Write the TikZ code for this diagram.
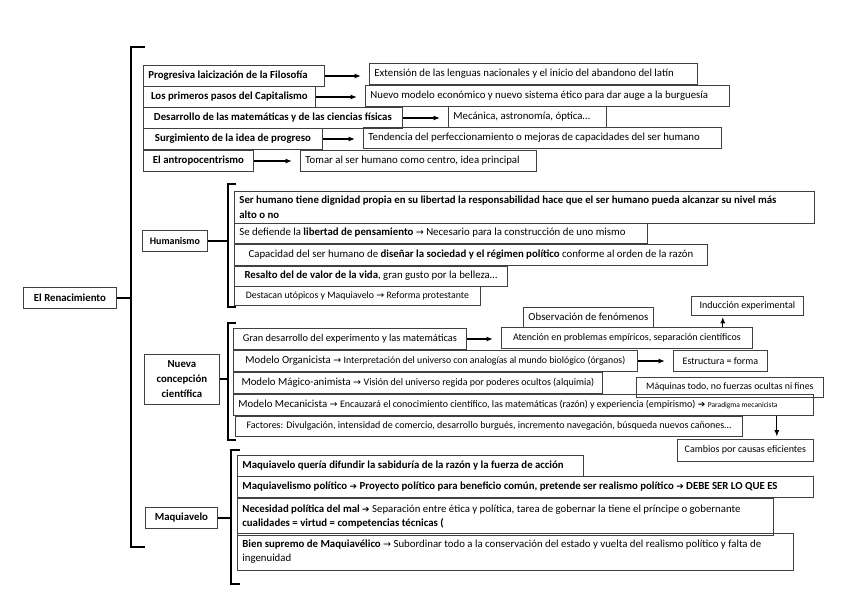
\documentclass[tikz,border=0pt]{standalone}
\usepackage{fontspec}
\setmainfont{Carlito}
\newfontfamily\arrowfont{DejaVu Sans}
\newcommand{\ra}{{\arrowfont\fontsize{9.5}{9.5}\selectfont →}}
\newcommand{\rab}{{\arrowfont\bfseries\fontsize{9}{9}\selectfont ➔}}
\usepackage{tikz}
\usetikzlibrary{positioning, arrows.meta}

\begin{document}
\begin{tikzpicture}[x=1pt, y=-1pt,
  entry/.style={draw=black!75, line width=0.8pt, anchor=west, inner xsep=5pt, inner ysep=2pt, minimum height=21pt, font=\fontsize{10.8}{14.5}\selectfont},
  bentry/.style={entry, font=\fontsize{10.8}{14.5}\selectfont\bfseries},
  sentry/.style={entry, font=\fontsize{10}{14}\selectfont},
  lentry/.style={entry, align=flush left, text width=#1},
  blentry/.style={bentry, align=flush left, text width=#1},
  brk/.style={line width=1.3pt},
  arr/.style={-{Latex[length=6.5pt, width=5pt]}, line width=1.2pt, shorten >=8pt}]
\useasboundingbox (0,0) rectangle (848,599) ;

\node[bentry, minimum width=93pt] at (23,298) (ren) {El Renacimiento} ;
\coordinate (mtop) at (131,47) ;
\coordinate (mbot) at (131,547) ;
\draw[brk] (145,47) -- (mtop) -- (mbot) -- (145,547) ;
\draw[brk] (ren.east) -- (ren.east -| mtop) ;

\node[blentry=171pt] at (143,76) (filo) {Progresiva laicización de la Filosofía} ;
\node[bentry, minimum width=172pt] at (143,97) (capi) {Los primeros pasos del Capitalismo} ;
\node[bentry, minimum width=259pt] at (143,118) (mate) {Desarrollo de las matemáticas y de las ciencias físicas} ;
\node[bentry, minimum width=179pt] at (143,139) (progr) {Surgimiento de la idea de progreso} ;
\node[bentry, minimum width=110pt] at (143,161) (antro) {El antropocentrismo} ;

\node[lentry=318pt] at (369,74) (lengua) {Extensión de las lenguas nacionales y el inicio del abandono del latín} ;
\node[lentry=354pt] at (365,96) (econ) {Nuevo modelo económico y nuevo sistema ético para dar auge a la burguesía} ;
\node[lentry=148pt] at (448,117) (mecanica) {Mecánica, astronomía, óptica…} ;
\node[lentry=348pt] at (363,138) (perfec) {Tendencia del perfeccionamiento o mejoras de capacidades del ser humano} ;
\node[lentry=226pt] at (300,161) (centro) {Tomar al ser humano como centro, idea principal} ;

\draw[arr] (filo.east) -- (filo.east -| lengua.west) ;
\draw[arr] (capi.east) -- (capi.east -| econ.west) ;
\draw[arr] (mate.east) -- (mate.east -| mecanica.west) ;
\draw[arr] (progr.east) -- (progr.east -| perfec.west) ;
\draw[arr] (antro.east) -- (antro.east -| centro.west) ;

\coordinate (htop) at (228,184) ;
\coordinate (hbot) at (228,307) ;
\draw[brk] (236,184) -- (htop) -- (hbot) -- (236,307) ;
\node[bentry, minimum width=65pt, font=\fontsize{10}{14}\selectfont\bfseries] at (142,241) (human) {Humanismo} ;
\draw[brk] (human.east) -- (human.east -| htop) ;

\node[blentry=570pt, minimum height=32pt] at (234,207) (dign) {Ser humano tiene dignidad propia en su libertad la responsabilidad hace que el ser humano pueda alcanzar su nivel más\\alto o no} ;
\node[lentry=403pt, minimum height=20pt] at (234,233) (pensa) {Se defiende la \textbf{libertad de pensamiento} \ra{} Necesario para la construcción de uno mismo} ;
\node[entry, minimum width=473pt] at (234,254.5) (razon) {Capacidad del ser humano de \textbf{diseñar la sociedad y el régimen político} conforme al orden de la razón} ;
\node[entry, minimum width=273pt, minimum height=20pt] at (234,276) (vida) {\textbf{Resalto del de valor de la vida}, gran gusto por la belleza…} ;
\node[entry, minimum width=246pt, minimum height=19pt, font=\fontsize{9.8}{12}\selectfont] at (234,296) (utop) {Destacan utópicos y Maquiavelo \ra{} Reforma protestante} ;

\coordinate (ntop) at (228,323) ;
\coordinate (nbot) at (228,440) ;
\draw[brk] (236,323) -- (ntop) -- (nbot) -- (236,440) ;
\node[bentry, align=center, minimum width=75pt, minimum height=50pt, font=\fontsize{10.8}{15}\selectfont\bfseries] at (144,379) (cien) {Nueva\\concepción\\científica} ;
\draw[brk] (cien.east) -- (cien.east -| ntop) ;

\node[entry, minimum width=233pt, font=\fontsize{10.4}{14}\selectfont] at (233,339) (exper) {Gran desarrollo del experimento y las matemáticas} ;
\node[entry, minimum width=404pt] at (233,361) (organ) {Modelo Organicista \ra{} {\fontsize{9.8}{12}\selectfont Interpretación del universo con analogías al mundo biológico (órganos)}} ;
\node[entry, minimum width=369pt] at (233,383) (magia) {Modelo Mágico-animista \ra{} {\fontsize{10}{12}\selectfont Visión del universo regida por poderes ocultos (alquimia)}} ;
\node[lentry=570pt] at (233,405) (mecan) {Modelo Mecanicista \ra{} {\fontsize{10}{12}\selectfont Encauzará el conocimiento científico, las matemáticas (razón) y experiencia (empirismo)} \rab{} {\fontsize{7.5}{8}\selectfont Paradigma mecanicista}} ;
\node[sentry, minimum width=507pt, minimum height=20pt] at (235,426) (factor) {Factores: Divulgación, intensidad de comercio, desarrollo burgués, incremento navegación, búsqueda nuevos cañones…} ;

\node[entry, minimum width=130pt, minimum height=20pt] at (523,317) (observ) {Observación de fenómenos} ;
\node[sentry, minimum width=251pt] at (501,338) (atenc) {Atención en problemas empíricos, separación científicos} ;
\node[sentry, minimum width=112pt, minimum height=19pt] at (691,306) (induc) {Inducción experimental} ;
\node[sentry, minimum width=94pt] at (673,361) (estruc) {Estructura = forma} ;
\node[sentry, minimum width=187pt, minimum height=20pt, font=\fontsize{9.8}{14}\selectfont] at (636,387) (maquin) {Máquinas todo, no fuerzas ocultas ni fines} ;
\node[sentry, minimum width=136pt, minimum height=22pt] at (677,450) (causas) {Cambios por causas eficientes} ;

\draw[arr] (exper.east) -- (exper.east -| atenc.west) ;
\draw[arr] (organ.east) -- (organ.east -| estruc.west) ;
\draw[arr, shorten >=1pt] ([xshift=-30pt]atenc.north east) -- ([xshift=-30pt]atenc.north east |- induc.south) ;
\draw[arr, shorten >=2pt] ([xshift=-37pt]mecan.south east) -- ([xshift=-37pt]mecan.south east |- causas.north) ;

\coordinate (qtop) at (231,450) ;
\coordinate (qbot) at (231,584) ;
\draw[brk] (240,450) -- (qtop) -- (qbot) -- (240,584) ;
\node[bentry, minimum width=72pt] at (145,518) (maqui) {Maquiavelo} ;
\draw[brk] (maqui.east) -- (maqui.east -| qtop) ;

\node[blentry=336pt] at (237,466) (sabid) {Maquiavelo quería difundir la sabiduría de la razón y la fuerza de acción} ;
\node[blentry=566pt] at (237,487) (realis) {Maquiavelismo político \rab{} Proyecto político para beneficio común, pretende ser realismo político \rab{} DEBE SER LO QUE ES} ;
\node[lentry=526pt, minimum height=37pt] at (237,516.5) (mal) {\textbf{Necesidad política del mal} \rab{} Separación entre ética y política, tarea de gobernar la tiene el príncipe o gobernante\\\textbf{cualidades = virtud = competencias técnicas (}} ;
\node[lentry=546pt, minimum height=37pt] at (237,551.5) (bien) {\textbf{Bien supremo de Maquiavélico} \ra{} Subordinar todo a la conservación del estado y vuelta del realismo político y falta de\\ingenuidad} ;
\end{tikzpicture}
\end{document}
